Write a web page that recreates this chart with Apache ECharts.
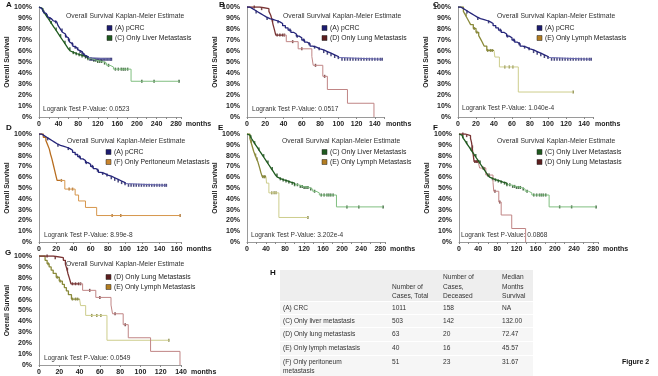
<!DOCTYPE html>
<html>
<head>
<meta charset="utf-8">
<script src="https://cdn.jsdelivr.net/npm/echarts@6/dist/echarts.min.js"></script>
<style>
html, body { margin: 0; padding: 0; background: #fff; }
#chart { width: 658px; height: 376px; }
</style>
</head>
<body>
<div id="chart"></div>
<script>
// Kaplan-Meier curves: [month, survival %], value holds until the next point
const pcrcCurve = [[0,100],[3,98.5],[6,97],[9,95.5],[12,94],[15,92.5],[18,91],[21,89.5],[25,88.5],[29,87.5],[33,86.5],[36,85],[39,83],[42,81],[45,79],[48,77],[51,75.5],[54,73.5],[57,72],[60,70],[63,68],[66,66.5],[69,64.5],[72,63.5],[76,62],[80,61],[84,59.5],[88,58],[92,56.5],[96,55],[100,54],[104,52.5],[148,52.5]];
const liverCurve = [[0,100],[3,99],[6,97.5],[9,96],[12,94],[15,92],[18,90],[21,88],[24,86],[27,84],[30,82],[33,80],[36,78],[39,76],[42,74],[45,72],[48,70],[51,68],[54,66],[57,64],[60,62],[64,60],[68,58.5],[72,57.5],[78,56.5],[85,55.5],[92,54.5],[100,53],[108,51.5],[118,50.5],[130,49],[138,47],[145,45.5],[152,43.5],[188,32.5],[286,32.5]];
const lungCurve = [[0,100],[14,98.5],[24,96],[26,92.5],[27.5,88],[28.5,84],[30,79.5],[31.5,74.5],[43,68.5],[56,62],[71,55],[72.5,47],[83,37],[88,25],[110,12.5],[139,0]];
const lymphCurve = [[0,100],[6,96],[8,93],[10,90],[12,87],[14,84],[17,80.5],[20,77],[23,74],[25,71],[27,68],[29,64.5],[32,60.5],[41,54.5],[46,45.5],[67,22.7],[128,22.7]];
const peritCurve = [[0,100],[5,97],[8,94],[10,90],[12,86],[13.5,81],[15,77],[16.5,72],[18,67],[19.5,62],[21,57],[30,49],[42,43.5],[46,38],[54,32],[67,24.5],[164,24.5]];

// censored cases, months
const pcrcCensor = [10,22,34,47,55,62,68,74,79,84,88,92,96,100,104,107,110,113,116,119,122,125,128,131,134,137,140,143,146,148];
const liverCensor = [8,16,25,35,44,53,63,70,76,82,88,95,100,106,112,116,120,124,128,134,142,156,162,168,172,176,181,210,235,286];
const lungCensor = [8,16,28,33,36,39,41,50,60,75,85];
const lymphCensor = [9,18,21,33,36,38,52,57,61,128];
const peritCensor = [26,35,39,85,95,164];

const groupNames = ['(A) pCRC', '(C) Only Liver Metastasis', '(D) Only Lung Metastasis', '(E) Only Lymph Metastasis', '(F) Only Peritoneum Metastasis'];
const pValues = ['0.0523', '0.0517', '1.040e-4', '8.99e-8', '3.202e-4', '0.0868', '0.0549'];

// table H
const tableHeaders = ['Number of\nCases, Total', 'Number of\nCases,\nDeceased', 'Median\nMonths\nSurvival'];
const tableGroups = ['(A) CRC', '(C) Only liver metastasis', '(D) Only lung metastasis', '(E) Only lymph metastasis', '(F) Only peritoneum\nmetastasis'];
const casesTotal = ['1011', '503', '63', '40', '51'];
const casesDeceased = ['158', '142', '20', '16', '23'];
const medianMonths = ['NA', '132.00', '72.47', '45.57', '31.67'];

const FONT = '"Liberation Sans", Arial, sans-serif';

const curveData = { pcrc: pcrcCurve, liver: liverCurve, lung: lungCurve, lymph: lymphCurve, perit: peritCurve };
const censorData = { pcrc: pcrcCensor, liver: liverCensor, lung: lungCensor, lymph: lymphCensor, perit: peritCensor };
const nameOf = { pcrc: groupNames[0], liver: groupNames[1], lung: groupNames[2], lymph: groupNames[3], perit: groupNames[4] };

// dense (early) part of each curve looks darker in the original
const curveStyle = {
  pcrc:  { early: '#25257a', late: '#6a6ab0', brk: 100, mark: '#1a1a5e', box: '#1c1c70' },
  liver: { early: '#1e5a1e', late: '#80bf80', brk: 100, mark: '#1a4a1a', box: '#1f5a1f' },
  lung:  { early: '#7a3434', late: '#c08585', brk: 40,  mark: '#5a2020', box: '#5c1e1e' },
  lymph: { early: '#8a8a3a', late: '#cdcd8c', brk: 40,  mark: '#77772e', box: '#b27d22' },
  perit: { early: '#b86e20', late: '#d6964c', brk: 25,  mark: '#a0601a', box: '#c8842e' }
};

const panels = [
  { tag: 'A', keys: ['pcrc', 'liver'], p: pValues[0], grid: [39, 7, 142, 110], max: 290, step: 40, labelMax: 280, nameGap: 2, tagPos: [6, 5], title: [66, 16], legend: [107, 28], log: [43, 109] },
  { tag: 'B', keys: ['pcrc', 'lung'], p: pValues[1], grid: [247, 7, 137, 110], max: 150, step: 20, labelMax: 140, nameGap: 2, tagPos: [219, 5], title: [283, 16], legend: [322, 28], log: [252, 109] },
  { tag: 'C', keys: ['pcrc', 'lymph'], p: pValues[2], grid: [458, 7, 135, 110], max: 150, step: 20, labelMax: 140, nameGap: 2, tagPos: [433, 5], title: [497, 16], legend: [537, 28], log: [462, 108] },
  { tag: 'D', keys: ['pcrc', 'perit'], p: pValues[3], grid: [39, 134, 142, 108], max: 165, step: 20, labelMax: 160, nameGap: 3, tagPos: [6, 128], title: [67, 141], legend: [106, 152], log: [44, 235] },
  { tag: 'E', keys: ['liver', 'lymph'], p: pValues[4], grid: [247, 134, 138, 108], max: 290, step: 40, labelMax: 280, nameGap: 2, tagPos: [218, 128], title: [282, 141], legend: [322, 152], log: [251, 235] },
  { tag: 'F', keys: ['liver', 'lung'], p: pValues[5], grid: [459, 134, 139, 108], max: 290, step: 40, labelMax: 280, nameGap: 2, tagPos: [433, 128], title: [497, 141], legend: [537, 152], log: [461, 235] },
  { tag: 'G', keys: ['lung', 'lymph'], p: pValues[6], grid: [39, 256, 142, 110], max: 140, step: 20, labelMax: 140, nameGap: 10, tagPos: [5, 253], title: [66, 264], legend: [106, 277], log: [44, 358] }
];

function survivalAt(curve, t) {
  let s = curve[0][1];
  for (const pt of curve) if (pt[0] <= t) s = pt[1];
  return s;
}

// split a step curve at month b into the part before and after
function splitCurve(curve, b) {
  const s = survivalAt(curve, b);
  const early = curve.filter(pt => pt[0] < b).concat([[b, s]]);
  const late = [[b, s]].concat(curve.filter(pt => pt[0] > b));
  return [early, late];
}

function txt(x, y, text, opts) {
  const o = Object.assign({ size: 7, weight: 'normal', color: '#222', align: 'left', va: 'middle' }, opts || {});
  return {
    type: 'text', x: x, y: y, silent: true,
    style: {
      text: text, fontFamily: FONT, fontSize: o.size, fontWeight: o.weight, fill: o.color,
      align: o.align, textAlign: o.align, verticalAlign: o.va, textVerticalAlign: o.va,
      lineHeight: o.lineHeight
    }
  };
}

const grids = [], xAxes = [], yAxes = [], series = [], graphics = [];

panels.forEach((pn, i) => {
  grids.push({ left: pn.grid[0], top: pn.grid[1], width: pn.grid[2], height: pn.grid[3] });
  xAxes.push({
    type: 'value', gridIndex: i, min: 0, max: pn.max, interval: 20,
    name: 'months', nameLocation: 'end', nameGap: pn.nameGap,
    nameTextStyle: { fontFamily: FONT, fontSize: 7, fontWeight: 'bold', color: '#222', verticalAlign: 'top', padding: [4, 0, 0, 0] },
    axisLine: { lineStyle: { color: '#9a9a9a', width: 1 } },
    axisTick: { length: 2, lineStyle: { color: '#888' } },
    splitLine: { show: false },
    axisLabel: {
      fontFamily: FONT, fontSize: 7, fontWeight: 'bold', color: '#222', margin: 4,
      formatter: v => (v % pn.step === 0 && v <= pn.labelMax) ? String(v) : ''
    }
  });
  yAxes.push({
    type: 'value', gridIndex: i, min: 0, max: 100, interval: 10,
    name: 'Overall Survival', nameLocation: 'middle', nameGap: 23, nameRotate: 90,
    nameTextStyle: { fontFamily: FONT, fontSize: 6.8, fontWeight: 'bold', color: '#222' },
    axisLine: { show: true, lineStyle: { color: '#9a9a9a' } },
    axisTick: { show: false },
    splitLine: { show: false },
    axisLabel: { fontFamily: FONT, fontSize: 7, fontWeight: 'bold', color: '#222', margin: 7, formatter: '{value}%' }
  });

  pn.keys.slice().reverse().forEach(k => {
    const st = curveStyle[k];
    const parts = splitCurve(curveData[k], st.brk);
    [[parts[1], st.late, 1], [parts[0], st.early, 1.3]].forEach(pc => {
      series.push({
        type: 'line', xAxisIndex: i, yAxisIndex: i, step: 'end', symbol: 'none', showSymbol: false,
        data: pc[0], lineStyle: { width: pc[2], color: pc[1] }, itemStyle: { color: pc[1] }, silent: true
      });
    });
    series.push({
      type: 'scatter', xAxisIndex: i, yAxisIndex: i, symbol: 'rect', symbolSize: [1.5, 3],
      itemStyle: { color: st.mark }, silent: true,
      data: censorData[k].map(t => [t, survivalAt(curveData[k], t)])
    });
  });

  graphics.push(txt(pn.tagPos[0], pn.tagPos[1], pn.tag, { size: 8, weight: 'bold', color: '#111' }));
  graphics.push(txt(pn.title[0], pn.title[1], 'Overall Survival Kaplan-Meier Estimate', { size: 6.8, color: '#333' }));
  pn.keys.forEach((k, j) => {
    const ly = pn.legend[1] + j * 10;
    graphics.push({
      type: 'rect', silent: true,
      shape: { x: pn.legend[0], y: ly - 2.5, width: 5, height: 5 },
      style: { fill: curveStyle[k].box, stroke: '#222', lineWidth: 0.5 }
    });
    graphics.push(txt(pn.legend[0] + 8, ly, nameOf[k], { size: 6.8, color: '#222' }));
  });
  graphics.push(txt(pn.log[0], pn.log[1], 'Logrank Test P-Value: ' + pn.p, { size: 6.6, color: '#333' }));
});

// table H
graphics.push(txt(270, 273, 'H', { size: 8, weight: 'bold', color: '#111' }));
graphics.push({ type: 'rect', silent: true, shape: { x: 280, y: 270, width: 253, height: 31 }, style: { fill: '#eeeeee' } });
const rowTops = [302, 315, 328, 342, 356];
const rowHeights = [12, 12, 13, 13, 20];
const rowMid = [308, 321, 334, 348];
const colX = [283, 392, 443, 502];
tableHeaders.forEach((h, c) => {
  graphics.push(txt(colX[c + 1], 301, h, { size: 6.6, color: '#333', va: 'bottom', lineHeight: 9.5 }));
});
tableGroups.forEach((g, r) => {
  graphics.push({ type: 'rect', silent: true, shape: { x: 280, y: rowTops[r], width: 253, height: rowHeights[r] }, style: { fill: '#f6f6f6' } });
  const cy = r === 4 ? 357.5 : rowMid[r];
  const va = r === 4 ? 'top' : 'middle';
  graphics.push(txt(colX[0], cy, g, { size: 6.6, color: '#333', va: va, lineHeight: 9 }));
  graphics.push(txt(colX[1], cy, casesTotal[r], { size: 6.6, color: '#333', va: va, lineHeight: 9 }));
  graphics.push(txt(colX[2], cy, casesDeceased[r], { size: 6.6, color: '#333', va: va, lineHeight: 9 }));
  graphics.push(txt(colX[3], cy, medianMonths[r], { size: 6.6, color: '#333', va: va, lineHeight: 9 }));
});
graphics.push(txt(622, 362, 'Figure 2', { size: 7, weight: 'bold', color: '#111' }));

const chart = echarts.init(document.getElementById('chart'));
chart.setOption({
  backgroundColor: '#fff',
  animation: false,
  grid: grids,
  xAxis: xAxes,
  yAxis: yAxes,
  series: series,
  graphic: graphics
});
</script>
</body>
</html>
